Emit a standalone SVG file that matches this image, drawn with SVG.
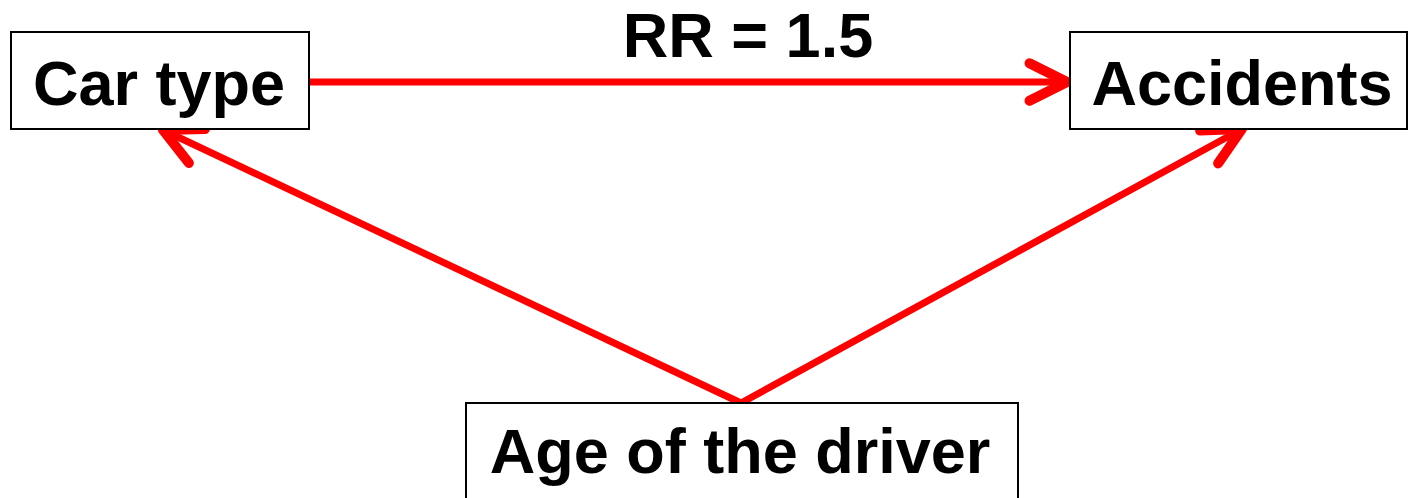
<svg xmlns="http://www.w3.org/2000/svg" width="1408" height="498" viewBox="0 0 1408 498">
<style>
.box{fill:#fff;stroke:#000;stroke-width:2}
.lbl{font-family:"Liberation Sans",Arial,sans-serif;font-weight:bold;font-size:63px;fill:#000;text-anchor:middle}
.edge{stroke:#ff0000;stroke-width:7;fill:none;marker-end:url(#ah)}
</style>
<defs>
<marker id="ah" markerUnits="userSpaceOnUse" orient="auto" refX="0" refY="0" markerWidth="50" markerHeight="50" viewBox="-35 -20 40 40" overflow="visible">
<path d="M-30,-15 L0,0 L-30,15" fill="none" stroke="#ff0000" stroke-width="8" stroke-linecap="round" stroke-linejoin="round"/>
</marker>
</defs>
<g id="connectors">
<line class="edge" x1="309" y1="82" x2="1067" y2="82"/>
<line class="edge" x1="741" y1="403" x2="163" y2="130"/>
<line class="edge" x1="741" y1="403" x2="1242" y2="129"/>
</g>
<text class="lbl" x="748" y="57">RR = 1.5</text>
<g id="car_type">
<rect class="box" x="11" y="32" width="298" height="97"/>
<text class="lbl" x="159" y="105">Car type</text>
</g>
<g id="accidents">
<rect class="box" x="1070" y="32" width="337" height="97"/>
<text class="lbl" x="1242" y="105">Accidents</text>
</g>
<g id="age">
<rect class="box" x="466" y="403" width="552" height="100"/>
<text class="lbl" x="740" y="473">Age of the driver</text>
</g>
</svg>
